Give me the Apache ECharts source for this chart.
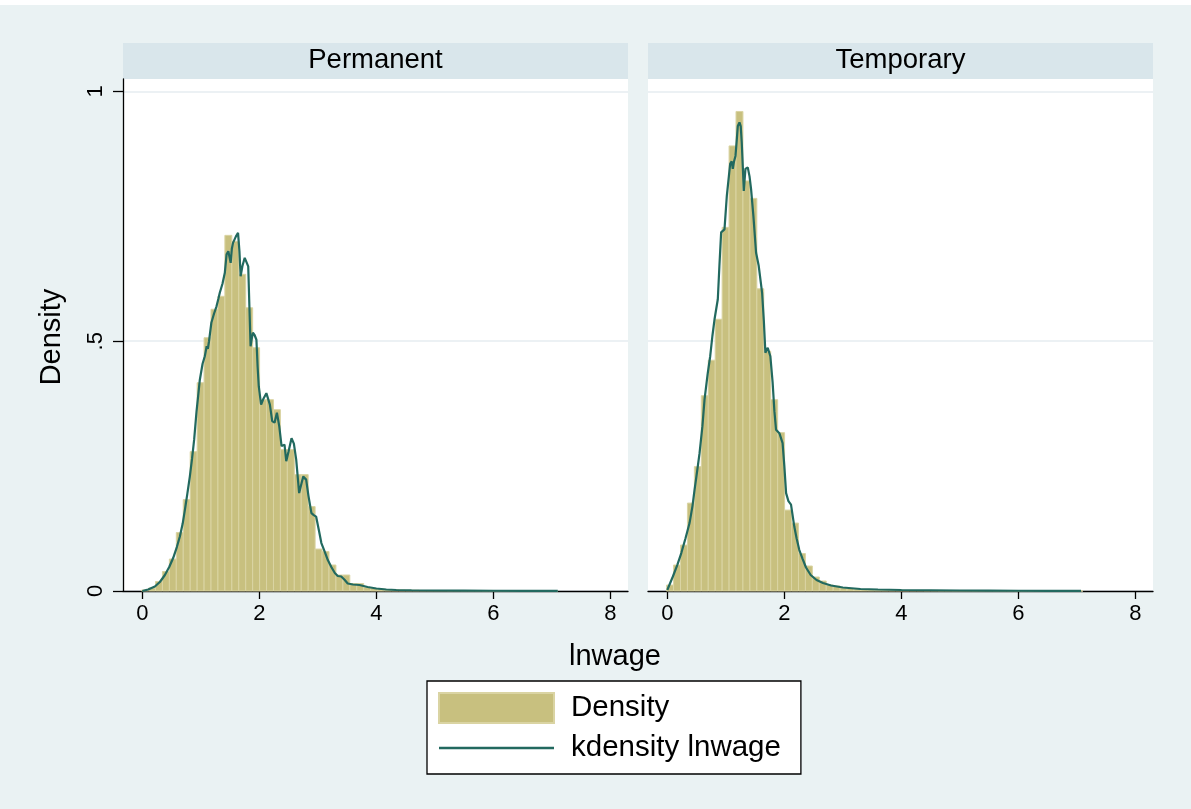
<!DOCTYPE html>
<html>
<head>
<meta charset="utf-8">
<script src="https://cdn.jsdelivr.net/npm/echarts@6/dist/echarts.min.js"></script>
<style>
html,body{margin:0;padding:0;background:#eaf2f3;}
#chart{width:1191px;height:809px;}
</style>
</head>
<body>
<div id="chart"></div>
<script>
// ---- data ----
const panels = ['Permanent', 'Temporary'];
const binStart = -0.012;
const binWidth = 0.1186;
const xTicks = [0, 2, 4, 6, 8];
const yTicks = [0, 0.5, 1];
const yTickLabels = ['0', '.5', '1'];

const permanentDensity = [0.002,0.006,0.019,0.039,0.064,0.117,0.183,0.279,0.417,0.507,0.564,0.590,0.712,0.700,0.634,0.567,0.487,0.383,0.383,0.363,0.283,0.283,0.233,0.233,0.169,0.084,0.079,0.052,0.032,0.032,0.015,0.015,0.007,0.005,0.004,0.003,0.003,0.002,0.0015,0.0015,0.001,0.001,0.001,0.001,0.0008,0.0008,0.0006,0.0006,0.0006,0.0005,0.0005,0.0005,0.0004,0.0004,0.0004,0.0003,0.0003,0.0003,0.0003,0.0002];

const temporaryDensity = [0.012,0.052,0.092,0.176,0.249,0.391,0.462,0.544,0.728,0.891,0.960,0.821,0.786,0.605,0.480,0.383,0.317,0.162,0.136,0.075,0.050,0.028,0.020,0.012,0.010,0.006,0.005,0.004,0.003,0.003,0.002,0.002,0.0015,0.0015,0.001,0.001,0.001,0.0008,0.0008,0.0006,0.0006,0.0005,0.0005,0.0005,0.0004,0.0004,0.0004,0.0003,0.0003,0.0003,0.0003,0.0003,0.0002,0.0002,0.0002,0.0002,0.0002,0.0002,0.0002,0.0001];

const permanentKdensity = [[0.0,0.0],[0.1,0.003],[0.215,0.009],[0.3,0.018],[0.386,0.032],[0.46,0.048],[0.527,0.066],[0.59,0.088],[0.642,0.109],[0.69,0.135],[0.727,0.162],[0.77,0.195],[0.812,0.229],[0.85,0.265],[0.886,0.303],[0.927,0.36],[0.954,0.39],[0.983,0.423],[1.03,0.455],[1.068,0.47],[1.1,0.49],[1.12,0.485],[1.14,0.5],[1.18,0.537],[1.225,0.555],[1.268,0.57],[1.3,0.585],[1.324,0.597],[1.37,0.615],[1.41,0.637],[1.44,0.674],[1.47,0.68],[1.495,0.677],[1.51,0.657],[1.53,0.685],[1.55,0.697],[1.6,0.71],[1.636,0.717],[1.66,0.68],[1.68,0.63],[1.71,0.65],[1.75,0.667],[1.78,0.665],[1.81,0.65],[1.83,0.57],[1.85,0.49],[1.87,0.505],[1.89,0.517],[1.92,0.512],[1.95,0.503],[1.97,0.45],[1.99,0.41],[2.03,0.373],[2.07,0.385],[2.12,0.396],[2.15,0.40],[2.18,0.373],[2.22,0.34],[2.26,0.337],[2.30,0.357],[2.34,0.33],[2.38,0.29],[2.43,0.293],[2.46,0.26],[2.5,0.28],[2.55,0.306],[2.59,0.295],[2.63,0.263],[2.68,0.196],[2.72,0.215],[2.75,0.229],[2.8,0.223],[2.84,0.19],[2.89,0.156],[2.93,0.152],[2.97,0.149],[3.02,0.12],[3.06,0.096],[3.12,0.078],[3.17,0.062],[3.23,0.048],[3.29,0.036],[3.34,0.03],[3.40,0.029],[3.46,0.022],[3.51,0.015],[3.6,0.013],[3.71,0.012],[3.85,0.008],[4.0,0.005],[4.17,0.003],[4.34,0.002],[4.6,0.0015],[5.0,0.001],[5.5,0.0007],[6.0,0.0005],[6.5,0.0004],[7.1,0.0003]];

const temporaryKdensity = [[0.0,0.002],[0.095,0.029],[0.17,0.052],[0.239,0.076],[0.31,0.105],[0.38,0.136],[0.43,0.17],[0.466,0.203],[0.51,0.24],[0.551,0.276],[0.6,0.33],[0.636,0.383],[0.69,0.435],[0.733,0.47],[0.77,0.51],[0.807,0.544],[0.863,0.584],[0.89,0.65],[0.92,0.718],[0.95,0.722],[0.977,0.724],[1.017,0.791],[1.074,0.855],[1.1,0.86],[1.119,0.845],[1.14,0.86],[1.165,0.871],[1.185,0.9],[1.205,0.931],[1.233,0.938],[1.255,0.93],[1.272,0.898],[1.29,0.85],[1.307,0.801],[1.335,0.845],[1.375,0.848],[1.405,0.83],[1.432,0.804],[1.471,0.751],[1.517,0.677],[1.562,0.651],[1.62,0.597],[1.65,0.54],[1.676,0.477],[1.716,0.487],[1.761,0.47],[1.8,0.417],[1.83,0.36],[1.858,0.323],[1.915,0.316],[1.97,0.296],[2.0,0.25],[2.03,0.196],[2.07,0.18],[2.114,0.173],[2.17,0.129],[2.21,0.105],[2.256,0.082],[2.31,0.065],[2.37,0.047],[2.45,0.032],[2.55,0.022],[2.66,0.016],[2.8,0.011],[3.0,0.007],[3.3,0.004],[3.6,0.003],[4.0,0.002],[4.5,0.0015],[5.0,0.001],[5.5,0.0007],[6.0,0.0005],[6.5,0.0004],[7.07,0.0003]];

const xTitle = 'lnwage';
const yTitle = 'Density';
const barName = 'Density';
const lineName = 'kdensity lnwage';

// ---- chart ----
const FONT = '"Liberation Sans", Arial, Helvetica, sans-serif';
const BAR_FILL = '#c8c07f';
const BAR_EDGE = '#dad4a3';
const LINE_COLOR = '#22695f';

function binsToData(vals) {
  return vals.map((h, i) => [binStart + i * binWidth, binStart + (i + 1) * binWidth, h]);
}

const gridLefts = [123, 648];
const grids = gridLefts.map(l => ({
  left: l, top: 79, width: 505, height: 512,
  show: true, backgroundColor: '#ffffff', borderWidth: 0
}));

const xAxes = gridLefts.map((l, i) => ({
  type: 'value', gridIndex: i, min: -0.33, max: 8.3,
  axisLine: { show: true, onZero: false, lineStyle: { color: '#000', width: 1.3 } },
  axisTick: { show: true, length: 8, customValues: xTicks, lineStyle: { color: '#000', width: 1.3 } },
  axisLabel: { show: true, customValues: xTicks, margin: 12, color: '#000', fontSize: 22, fontFamily: FONT },
  splitLine: { show: false }
}));

const yAxes = gridLefts.map((l, i) => ({
  type: 'value', gridIndex: i, min: 0, max: 1.025,
  axisLine: { show: i === 0, onZero: false, lineStyle: { color: '#000', width: 1.3 } },
  axisTick: { show: i === 0, length: 10, customValues: yTicks, lineStyle: { color: '#000', width: 1.3 } },
  axisLabel: {
    show: i === 0, customValues: yTicks, rotate: 90, margin: 16, color: '#000', fontSize: 22, fontFamily: FONT,
    formatter: v => yTickLabels[yTicks.indexOf(+v.toFixed(2))] ?? ''
  },
  splitLine: { show: true, lineStyle: { color: '#e6edf0', width: 1.5 } }
}));

function histSeries(vals, idx) {
  return {
    type: 'custom', name: barName, xAxisIndex: idx, yAxisIndex: idx,
    data: binsToData(vals),
    encode: { x: [0, 1], y: 2 },
    itemStyle: { color: BAR_FILL, borderColor: BAR_EDGE, borderWidth: 1 },
    renderItem: function (params, api) {
      const a = api.coord([api.value(0), api.value(2)]);
      const b = api.coord([api.value(1), 0]);
      return {
        type: 'rect',
        shape: { x: a[0], y: a[1], width: b[0] - a[0], height: b[1] - a[1] },
        style: { fill: BAR_FILL, stroke: BAR_EDGE, lineWidth: 1 }
      };
    },
    z: 2
  };
}

function lineSeries(pts, idx) {
  return {
    type: 'line', name: lineName, xAxisIndex: idx, yAxisIndex: idx,
    data: pts, showSymbol: false, symbol: 'none', smooth: false,
    lineStyle: { color: LINE_COLOR, width: 2.2 }, itemStyle: { color: LINE_COLOR },
    z: 3
  };
}

const chart = echarts.init(document.getElementById('chart'), null, { renderer: 'canvas' });
chart.setOption({
  backgroundColor: '#eaf2f3',
  animation: false,
  grid: grids,
  xAxis: xAxes,
  yAxis: yAxes,
  legend: {
    orient: 'vertical', left: 427, top: 681,
    padding: [11, 20, 11, 11], itemGap: 9, itemWidth: 115, itemHeight: 30,
    backgroundColor: '#ffffff', borderColor: '#000', borderWidth: 1.3, borderRadius: 0,
    symbolKeepAspect: true,
    textStyle: { fontSize: 29.5, fontFamily: FONT, color: '#000', padding: [0, 0, 0, 12] },
    data: [
      { name: barName, icon: 'rect', itemStyle: { color: BAR_FILL, borderColor: BAR_EDGE, borderWidth: 2 } },
      { name: lineName, icon: 'path://M0,0L115,0L115,2.6L0,2.6Z', itemStyle: { color: LINE_COLOR } }
    ]
  },
  graphic: [
    { type: 'rect', shape: { x: 0, y: 0, width: 1191, height: 5 }, style: { fill: '#ffffff' }, z: -1 },
    { type: 'rect', shape: { x: 123, y: 43, width: 505, height: 36 }, style: { fill: '#d9e6eb' } },
    { type: 'rect', shape: { x: 648, y: 43, width: 505, height: 36 }, style: { fill: '#d9e6eb' } },
    { type: 'text', x: 375.5, y: 60, style: { text: panels[0], fontSize: 27.5, fontFamily: FONT, fill: '#000', align: 'center', verticalAlign: 'middle' } },
    { type: 'text', x: 900.5, y: 60, style: { text: panels[1], fontSize: 27.5, fontFamily: FONT, fill: '#000', align: 'center', verticalAlign: 'middle' } },
    { type: 'text', x: 615, y: 657, style: { text: xTitle, fontSize: 29, fontFamily: FONT, fill: '#000', align: 'center', verticalAlign: 'middle' } },
    { type: 'text', x: 52, y: 337, rotation: Math.PI / 2, style: { text: yTitle, fontSize: 29, fontFamily: FONT, fill: '#000', align: 'center', verticalAlign: 'middle' } }
  ],
  series: [
    histSeries(permanentDensity, 0), lineSeries(permanentKdensity, 0),
    histSeries(temporaryDensity, 1), lineSeries(temporaryKdensity, 1)
  ]
});
</script>
</body>
</html>
